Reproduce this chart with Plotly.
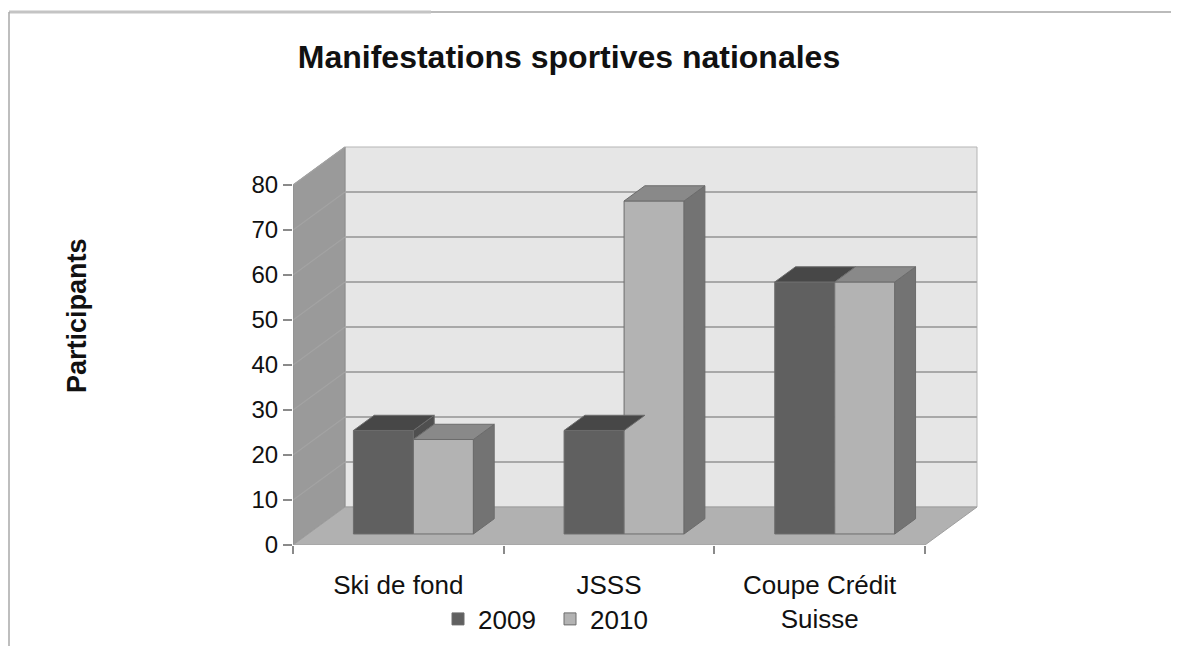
import numpy as np
import plotly.graph_objects as go

# ---- data ----
categories = ["Ski de fond", "JSSS", "Coupe Crédit<br>Suisse"]
series_names = ["2009", "2010"]
values_2009 = [23, 23, 56]
values_2010 = [21, 74, 56]
y_ticks = [0, 10, 20, 30, 40, 50, 60, 70, 80]
title_text = "Manifestations sportives nationales"
y_title = "Participants"

# ---- style / geometry (reference pixel frame) ----
W, H = 1179, 646
OFF = 8                       # page body margin
REF_L, REF_T, REF_B, REF_R = 293, 140, 545, 980
PW, PH = REF_R - REF_L, REF_B - REF_T
ML, MT = REF_L - OFF, REF_T - OFF
MR, MB = W - ML - PW, H - MT - PH
X0, X1 = -0.5, -0.5 + PW / (632 / 3)
Y0, Y1 = 0, 90
px_x = PW / (X1 - X0)
px_y = PH / (Y1 - Y0)
DX = 52 / px_x          # depth offset in x units
DY = 38 / px_y          # depth offset in y units
D0, D1 = 0.29, 0.69     # bar front/back depth
BW = 60 / px_x          # bar width
YMAX = max(y_ticks)

col_front = {"2009": "#606060", "2010": "#b3b3b3"}
col_top = {"2009": "#474747", "2010": "#898989"}
col_side = {"2009": "#4f4f4f", "2010": "#737373"}
edge = "#6c6c6c"
FONT = "Liberation Sans, Arial, sans-serif"

xc = np.arange(len(categories), dtype=float)
n_cat = len(categories)
series_vals = {"2009": values_2009, "2010": values_2010}
offsets = {"2009": -BW / 2, "2010": BW / 2}


def P(x, v, d):
    return x + d * DX, v + d * DY


def px2paper_x(p):
    return (p - REF_L) / PW


def py2paper_y(p):
    return (REF_B - p) / PH


fig = go.Figure()

shapes = []
xl_axis, xr_axis = X0, X0 + n_cat


def poly(points, fill, line_col, lw=1):
    path = "M " + " L ".join(f"{x},{y}" for x, y in points) + " Z"
    return dict(type="path", path=path, xref="x", yref="y", fillcolor=fill,
                line=dict(color=line_col, width=lw), layer="below")


def seg(p1, p2, col, lw=1.5):
    return dict(type="line", x0=p1[0], y0=p1[1], x1=p2[0], y1=p2[1], xref="x", yref="y",
                line=dict(color=col, width=lw), layer="below")


# back wall
shapes.append(poly([P(xl_axis, 0, 1), P(xr_axis, 0, 1), P(xr_axis, YMAX, 1), P(xl_axis, YMAX, 1)],
                   "#e6e6e6", "#b5b5b5"))
# left wall
shapes.append(poly([P(xl_axis, 0, 0), P(xl_axis, YMAX, 0), P(xl_axis, YMAX, 1), P(xl_axis, 0, 1)],
                   "#9a9a9a", "#8c8c8c"))
# floor
shapes.append(poly([P(xl_axis, 0, 0), P(xr_axis, 0, 0), P(xr_axis, 0, 1), P(xl_axis, 0, 1)],
                   "#b1b1b1", "#9e9e9e"))
# gridlines
for t in y_ticks[1:]:
    if t < YMAX:
        shapes.append(seg(P(xl_axis, t, 1), P(xr_axis, t, 1), "#a8a8a8", 1.8))
    shapes.append(seg(P(xl_axis, t, 0), P(xl_axis, t, 1), "#a3a3a3", 1.2))

# page borders
bx = px2paper_x(9)
shapes.append(dict(type="line", xref="paper", yref="paper", x0=bx, x1=px2paper_x(431),
                   y0=py2paper_y(12), y1=py2paper_y(12), line=dict(color="#c4c4c4", width=3)))
shapes.append(dict(type="line", xref="paper", yref="paper", x0=px2paper_x(431), x1=px2paper_x(W + 20),
                   y0=py2paper_y(12), y1=py2paper_y(12), line=dict(color="#a5a5a5", width=1.5)))
shapes.append(dict(type="line", xref="paper", yref="paper", x0=bx, x1=bx,
                   y0=py2paper_y(12), y1=py2paper_y(H + 20), line=dict(color="#a8a8a8", width=1.5)))

# ---- bar front faces ----
for s in series_names:
    fx = [P(c + offsets[s], 0, D0)[0] for c in xc]
    fig.add_trace(go.Bar(
        x=fx, y=series_vals[s], base=D0 * DY, width=BW, name=s,
        marker=dict(color=col_front[s], line=dict(color=edge, width=1)),
        hovertemplate=s + ": %{y}<extra></extra>",
    ))


def add_polys(polys, fill):
    xs, ys = [], []
    for pts in polys:
        for x, y in pts + [pts[0]]:
            xs.append(x)
            ys.append(y)
        xs.append(None)
        ys.append(None)
    fig.add_trace(go.Scatter(x=xs, y=ys, mode="lines", fill="toself", fillcolor=fill,
                             line=dict(color=edge, width=1), showlegend=False, hoverinfo="skip"))


# 2009 side (only the part visible above 2010)
side09 = []
for i, c in enumerate(xc):
    v9, v10 = values_2009[i], values_2010[i]
    if v9 > v10:
        xr = c + offsets["2009"] + BW / 2
        side09.append([P(xr, v10, D0), P(xr, v9, D0), P(xr, v9, D1), P(xr, v10, D1)])
if side09:
    add_polys(side09, col_side["2009"])

for s in series_names:
    tops, sides = [], []
    for i, c in enumerate(xc):
        v = series_vals[s][i]
        xl = c + offsets[s] - BW / 2
        xr = xl + BW
        tops.append([P(xl, v, D0), P(xr, v, D0), P(xr, v, D1), P(xl, v, D1)])
        sides.append([P(xr, 0, D0), P(xr, v, D0), P(xr, v, D1), P(xr, 0, D1)])
    if s == "2010":
        add_polys(sides, col_side[s])
    add_polys(tops, col_top[s])

# boundary ticks on a second x axis
fig.add_trace(go.Scatter(x=[X0], y=[0], xaxis="x2", mode="markers", marker=dict(opacity=0),
                         showlegend=False, hoverinfo="skip"))

fig.update_layout(
    width=W, height=H,
    margin=dict(l=ML, r=MR, t=MT, b=MB, autoexpand=False),
    paper_bgcolor="white", plot_bgcolor="white",
    barmode="overlay",
    shapes=shapes,
    font=dict(family=FONT, color="#111111"),
    title=dict(text=f"<b>{title_text}</b>", x=(569 - OFF) / W, xanchor="center", xref="container",
               y=1 - (57 - OFF) / H, yanchor="middle", yref="container",
               font=dict(size=32, family=FONT, color="#111111")),
    xaxis=dict(range=[X0, X1], tickvals=list(xc), ticktext=categories, ticks="",
               showgrid=False, zeroline=False, showline=False, automargin=False,
               tickfont=dict(size=26), ticklabelstandoff=22),
    xaxis2=dict(range=[X0, X1], overlaying="x", side="bottom", anchor="y",
                tickvals=[X0 + k for k in range(n_cat + 1)], ticks="outside", ticklen=8,
                tickcolor="#8a8a8a", tickwidth=1.5, showticklabels=False, automargin=False,
                showgrid=False, zeroline=False, showline=False),
    yaxis=dict(range=[Y0, Y1], tickvals=y_ticks, ticks="outside", ticklen=9,
               tickcolor="#8a8a8a", tickwidth=1.5, showgrid=False, zeroline=False,
               showline=False, automargin=False, tickfont=dict(size=24), ticklabelstandoff=0),
    legend=dict(orientation="h", x=px2paper_x(438), xanchor="left",
                y=py2paper_y(619), yanchor="middle", font=dict(size=26),
                bgcolor="rgba(0,0,0,0)", itemwidth=30, entrywidth=67),
    annotations=[dict(text=f"<b>{y_title}</b>", xref="paper", yref="paper",
                      x=px2paper_x(77), y=py2paper_y(316), textangle=-90,
                      showarrow=False, font=dict(size=27, family=FONT, color="#111111"),
                      xanchor="center", yanchor="middle")],
)

fig.write_html("out.html")
